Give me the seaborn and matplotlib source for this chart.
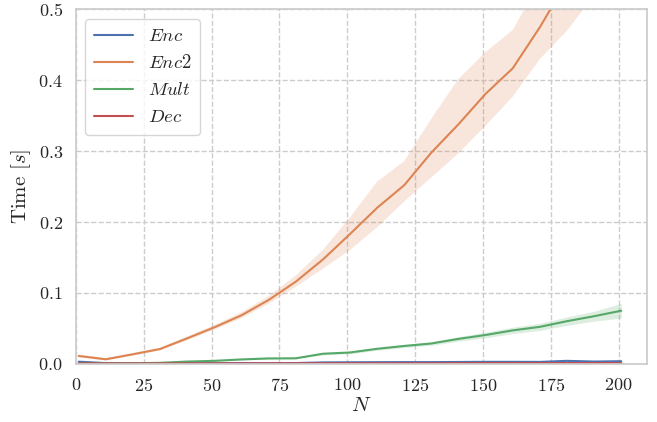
import numpy as np
import pandas as pd
import matplotlib
matplotlib.use("Agg")
import matplotlib.pyplot as plt
import seaborn as sns

# ---- data ----
N = [1, 11, 21, 31, 41, 51, 61, 71, 81, 91, 101, 111, 121, 131, 141, 151, 161, 171, 181, 191, 201]

enc_mean = [0.0028, 0.0008, 0.0006, 0.0006, 0.0007, 0.0007, 0.0008, 0.0008, 0.0009, 0.0018, 0.0020,
            0.0021, 0.0022, 0.0022, 0.0024, 0.0026, 0.0026, 0.0025, 0.0040, 0.0030, 0.0035]
enc_lo = [0.0024, 0.0006, 0.0005, 0.0005, 0.0006, 0.0006, 0.0007, 0.0007, 0.0008, 0.0016, 0.0018,
          0.0019, 0.0020, 0.0020, 0.0022, 0.0024, 0.0024, 0.0023, 0.0035, 0.0027, 0.0031]
enc_hi = [0.0032, 0.0010, 0.0007, 0.0007, 0.0008, 0.0008, 0.0009, 0.0009, 0.0010, 0.0020, 0.0022,
          0.0023, 0.0024, 0.0024, 0.0026, 0.0028, 0.0028, 0.0027, 0.0045, 0.0033, 0.0039]

enc2_mean = [0.0109, 0.0062, 0.0133, 0.0207, 0.0358, 0.0513, 0.0683, 0.0899, 0.1157, 0.147, 0.183,
             0.220, 0.252, 0.298, 0.338, 0.381, 0.417, 0.475, 0.540, 0.600, 0.660]
enc2_lo = [0.0090, 0.0045, 0.0115, 0.0187, 0.0330, 0.0480, 0.0640, 0.0845, 0.1085, 0.134, 0.1605,
           0.1925, 0.229, 0.263, 0.297, 0.336, 0.377, 0.430, 0.470, 0.520, 0.570]
enc2_hi = [0.0128, 0.0079, 0.0151, 0.0227, 0.0386, 0.0546, 0.0726, 0.0953, 0.1245, 0.1605, 0.2066,
           0.257, 0.286, 0.346, 0.402, 0.440, 0.471, 0.540, 0.600, 0.650, 0.710]

mult_mean = [0.0003, 0.0004, 0.0006, 0.0012, 0.0030, 0.0040, 0.0060, 0.0074, 0.0076, 0.0140, 0.0158,
             0.0210, 0.0250, 0.0285, 0.0350, 0.0405, 0.0470, 0.0520, 0.0600, 0.0670, 0.0748]
mult_lo = [0.0002, 0.0003, 0.0005, 0.0009, 0.0025, 0.0034, 0.0053, 0.0066, 0.0068, 0.0125, 0.0140,
           0.0190, 0.0228, 0.0260, 0.0318, 0.0365, 0.0425, 0.0470, 0.0540, 0.0600, 0.0645]
mult_hi = [0.0004, 0.0005, 0.0007, 0.0015, 0.0035, 0.0046, 0.0067, 0.0082, 0.0084, 0.0155, 0.0176,
           0.0230, 0.0272, 0.0310, 0.0382, 0.0445, 0.0515, 0.0570, 0.0660, 0.0740, 0.0852]

dec_mean = [0.0005, 0.0004, 0.0004, 0.0004, 0.0005, 0.0005, 0.0005, 0.0005, 0.0006, 0.0006, 0.0006,
            0.0007, 0.0007, 0.0007, 0.0008, 0.0008, 0.0008, 0.0008, 0.0009, 0.0009, 0.0009]
dec_lo = [0.0004, 0.0003, 0.0003, 0.0003, 0.0004, 0.0004, 0.0004, 0.0004, 0.0005, 0.0005, 0.0005,
          0.0006, 0.0006, 0.0006, 0.0007, 0.0007, 0.0007, 0.0007, 0.0008, 0.0008, 0.0008]
dec_hi = [0.0006, 0.0005, 0.0005, 0.0005, 0.0006, 0.0006, 0.0006, 0.0006, 0.0007, 0.0007, 0.0007,
          0.0008, 0.0008, 0.0008, 0.0009, 0.0009, 0.0009, 0.0009, 0.0010, 0.0010, 0.0010]

labels = ["$Enc$", "$Enc2$", "$Mult$", "$Dec$"]

# ---- style ----
sns.set_theme(style="whitegrid", palette="deep",
              rc={"grid.linestyle": "--", "axes.edgecolor": ".8"})
plt.rcParams["font.family"] = "serif"
plt.rcParams["font.serif"] = ["cmr10", "DejaVu Serif"]
plt.rcParams["mathtext.fontset"] = "cm"
plt.rcParams["axes.formatter.use_mathtext"] = True

fig, ax = plt.subplots(figsize=(6.57, 4.22), dpi=100)
fig.subplots_adjust(left=0.1157, right=0.9848, top=0.9775, bottom=0.1382)

colors = sns.color_palette("deep", 4)
series = [(enc_mean, enc_lo, enc_hi), (enc2_mean, enc2_lo, enc2_hi),
          (mult_mean, mult_lo, mult_hi), (dec_mean, dec_lo, dec_hi)]

for (m, lo, hi), lab, c in zip(series, labels, colors):
    df = pd.DataFrame({"N": N, "t": m})
    sns.lineplot(data=df, x="N", y="t", ax=ax, color=c, label=lab, linewidth=1.5)
    ax.fill_between(N, lo, hi, color=c, alpha=0.2, linewidth=0)

ax.set_xlim(0, 210.5)
ax.set_ylim(0, 0.5)
ax.set_xticks([0, 25, 50, 75, 100, 125, 150, 175, 200])
ax.set_yticks([0.0, 0.1, 0.2, 0.3, 0.4, 0.5])
ax.tick_params(labelsize=13)
ax.set_xlabel("$N$", fontsize=15, labelpad=2)
ax.set_ylabel("Time $[s]$", fontsize=15)
leg = ax.legend(loc="upper left", fontsize=13.5, frameon=True,
                handlelength=2.1, handletextpad=0.8, labelspacing=0.48,
                borderpad=0.45)

fig.savefig("out.png", dpi=100)
